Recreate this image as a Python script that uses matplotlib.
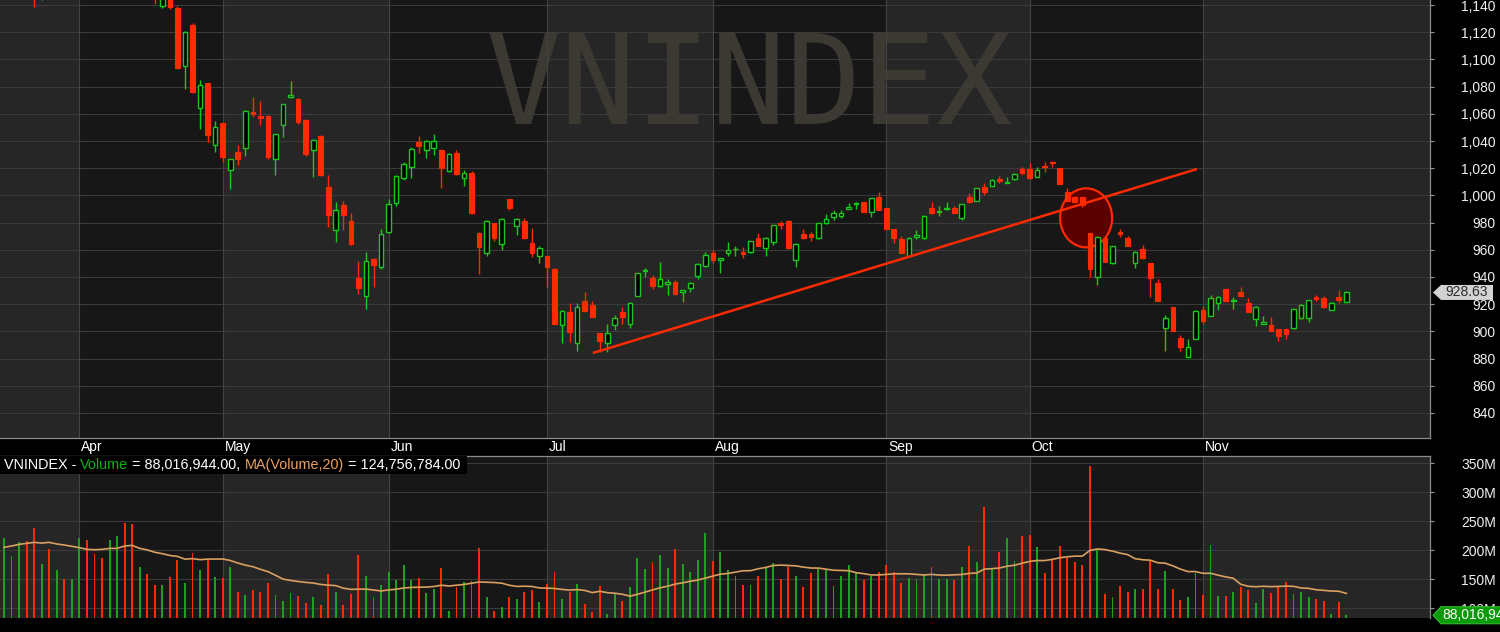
import numpy as np
import pandas as pd
import matplotlib
matplotlib.use('Agg')
import matplotlib.pyplot as plt
from matplotlib.patches import Ellipse, Rectangle, Polygon
from matplotlib.transforms import IdentityTransform, blended_transform_factory

# ---------------- data (VNINDEX daily, Mar 19 - Nov 28) ----------------
opens = [1150,1158,1166,1170,1156,1145,1166,1152,1172,1165,
         1176,1190,1172,1164,1155,1178,1198,1178,1165,1175,
         1160,1139.5,1152,1137.8,1095,1125,1064.5,1082.6,1036.8,1053.5,
         1018.7,1032,1034.6,1061.3,1058.4,1058.4,1026.5,1051.5,1072,1071,
         1055.4,1033.1,1043.7,1006.4,974.6,993.1,981.2,939.2,925.7,953.3,
         947.7,973.4,994.2,1012.6,1021.1,1039,1033.6,1034.9,1033.4,1017.9,
         1030.9,1012.6,1016.3,972.1,957.4,979.5,964,997.2,977.5,981.2,
         964.8,955.5,955.2,946.1,904.4,914.5,891.2,922.6,919.4,898.5,
         891.2,904.9,914.5,905.4,926.3,944.4,939.5,933.4,934.7,936.6,
         929,931.7,940.7,948.1,957.4,952.5,957.8,960.3,958.3,958.1,
         968.9,961.5,965.9,979.9,980.9,952.5,971.6,971.3,968.4,979.4,
         983.8,985,990,993.6,994.9,987.5,998.5,990.4,975.2,968.2,
         955.4,969.7,968.5,990.6,987.6,989.8,990.6,983.2,998.6,996.2,
         1006.5,1007.2,1012.1,1009.4,1012.1,1019.3,1019.5,1013.9,1021.7,1024.9,
         1020,1002.8,999.1,998.6,972.1,939.8,968.5,950.1,973.1,968.5,
         950.1,960.4,950.1,935.4,902.3,917.7,895,881.5,894.5,915.8,
         911.4,921.2,931,922.4,929.3,921.2,908.9,905.7,904.8,901.8,
         901.8,902.3,909.6,909.6,925.6,924.4,915.8,925.6,921.9]
highs = [1162,1170,1172,1174,1160,1168,1170,1175,1176,1180,
         1192,1196,1178,1168,1180,1204,1202,1180,1178,1178,
         1162,1158,1155,1139,1121,1127,1085,1083,1054.5,1054,
         1027,1036.8,1063,1072,1069.7,1059,1045.5,1067.5,1084.1,1071.5,
         1056.5,1041.5,1044.5,1015,995.4,995.6,987.3,951.4,958.7,954,
         975,997,1015,1024.8,1035.8,1043.7,1040.5,1045.1,1034,1031,
         1033.5,1018.7,1018,973,982,980,983.5,997.5,983.5,983.7,
         975.8,962.8,955.5,946.5,915.5,920.6,921.1,929.2,922,899,
         905.2,912.1,917.6,921.5,943,946.9,941.5,950.9,938.3,937.8,
         930.5,936.6,950,958.4,959.8,954,966,962.7,961.8,966.8,
         972.1,969.3,978.5,981.4,981.9,965,975,973.3,979.8,986,
         989.2,989.2,994.1,995,995.3,998.2,1002.7,991,975.5,970.5,
         969.5,974.6,985.3,995.5,992.5,995,992,994,1001.6,1005.6,
         1009.4,1011.7,1014.4,1013.9,1016.8,1020.8,1023.7,1021.2,1024.2,1025.2,
         1020.3,1005.3,999.5,999,972.5,970,968.8,963.1,975.1,970.3,
         959,963.6,950.4,938.3,912.1,918,897.4,894.2,915.4,918.7,
         926.8,926,931.3,925.1,932.9,924.9,918.5,911,910.9,902,
         902,916.6,919.8,923.4,926.4,926.3,921.5,930.5,929.6]
lows = [1146,1152,1158,1155,1138.5,1144,1150,1150,1160,1162,
        1172,1170,1160,1150,1152,1176,1175,1160,1158,1158,
        1141,1138,1137,1093,1078,1075,1048.6,1039.5,1032,1024.8,
        1004.5,1022.6,1029,1058,1051.8,1026.5,1014.8,1043.2,1071.5,1052.5,
        1029,1013.8,1014,977,966,974.6,963.5,927.7,916.7,932.6,
        946,972,992.2,1011.3,1013,1030.9,1027.3,1029.7,1005.2,1017.5,
        1015,1007.2,986.5,942,955.7,966.7,959.9,989.3,971,968,
        955,950.6,932.9,905.5,891.2,892.4,885.8,914.5,910.5,885,
        885,901,905.8,902.2,926,940.2,930.9,933,926.8,927,
        921.8,929,938.3,947.5,950,942.6,955.4,955.4,953.7,957.5,
        962.5,955.4,963.5,975,960.5,947.5,968,966.7,968,979,
        981.9,983.3,989.7,989.7,987.8,984.3,989,975,964.7,957.5,
        955,968,968.2,986.5,984.9,989.5,987,982,994.7,996,
        1000.4,1007,1009,1009.2,1011,1016,1012.3,1013.6,1017.5,1021.2,
        1008.2,995.7,995.2,991.8,939.8,934.1,951,949.8,969.7,962.5,
        946.4,953.5,925.6,922.3,885.9,900.3,885.6,881.2,894.2,905.5,
        911,915.8,922.1,916.3,925.8,914.3,904,905.5,900,893,
        894.5,902,909.3,907,922.2,917.4,915.5,921.2,921.6]
closes = [1160,1168,1170,1158,1146,1165,1152,1172,1165,1176,
          1190,1172,1164,1155,1178,1200,1178,1165,1175,1160,
          1145,1152,1138.3,1094,1120,1076,1081,1044.7,1050.5,1028.5,
          1026.5,1026.8,1062.3,1060.1,1056.7,1028.5,1044.9,1067,1073.6,1054.2,
          1030.2,1040.7,1015,985.6,989.3,985.6,964.1,931.8,952.1,948.5,
          971.4,993.4,1014.3,1023.1,1034.4,1036.3,1039.9,1040,1020.4,1030.7,
          1015.5,1016.7,986.9,961.8,981.5,969,983,990.6,983,968.5,
          957.4,961.6,947.1,905.8,915.2,899.3,917.6,915,910.8,892.6,
          898.5,909.7,910.8,921.1,942.7,945.4,933.4,938.3,936.4,927.5,
          930.2,935.3,949.6,956.2,952.5,953.7,959.8,960.8,956.6,966.4,
          963,968.9,978.2,978.2,961,964.5,968.4,969.6,979.4,982.4,
          987.3,987.3,991.7,994.6,988,997.8,989.2,975.2,968.4,958,
          968.7,970.9,984.9,986.9,988.8,991,987.4,993.7,995,1005.3,
          1002.8,1011.4,1010.9,1010.2,1015.6,1016.3,1012.6,1018.8,1020.7,1023.7,
          1008.5,996,995.5,993,945.6,969.7,951.3,962.8,971.7,963.1,
          958.7,953.8,939.6,922.6,910.1,900.6,888.8,888.8,915.1,907.9,
          924.4,925.6,922.4,923.1,926.1,914.6,918.2,907.2,900.3,896.9,
          898.1,916.3,919.5,923.1,924.1,917.7,921.2,923.1,928.63]
volumes_m = [222,190,214,217,238,177,202,166,151,151,
             222,218,194,187,218,224,248,246,171,159,
             140,141,154,184,144,195,166,185,154,152,
             172,128,123,132,128,144,123,113,126,122,
             109,119,105,160,128,106,125,192,156,120,
             141,162,148,174,148,152,126,134,170,95,
             136,145,147,204,120,95,103,119,116,128,
             132,111,142,162,116,129,142,107,94,138,
             91,124,113,137,186,168,180,192,170,203,
             176,163,184,230,182,198,166,155,140,141,
             156,171,179,151,172,156,137,161,168,167,
             138,156,174,161,148,156,163,174,162,143,
             153,151,159,172,150,151,148,172,207,180,
             274,170,198,221,182,225,226,205,161,184,
             207,187,180,174,345,203,125,119,139,128,
             133,134,183,133,165,134,114,120,161,123,
             210,121,121,128,137,132,110,134,126,136,
             145,125,128,120,116,113,91,111,88.02]
# MA(20) of the first 19 sessions depends on earlier history ->
ma_prior_m = [205.2,207.5,210.3,212.0,213.8,212.6,213.8,211.0,209.2,207.0,
              204.6,201.7,201.1,201.7,203.4,203.4,207.5,208.6,203.4]

month_labels = ['Apr', 'May', 'Jun', 'Jul', 'Aug', 'Sep', 'Oct', 'Nov']
month_start_idx = [10, 29, 51, 72, 94, 117, 136, 159]
price_ticks = list(range(840, 1141, 20))
vol_ticks_m = [100, 150, 200, 250, 300, 350]
trend_idx = [78.1, 158.2]
trend_price = [884.1, 1019.4]
circle_center = (143.5, 983.5)
circle_size = (6.9, 43.4)
last_volume = 88016944.00
last_ma = 124756784.00
symbol = 'VNINDEX'

# ---------------- style ----------------
plt.rcParams['font.family'] = ['Liberation Sans', 'DejaVu Sans']
W, H = 1500, 632
plot_right = 1430
price_top, price_bot = 0, 438
vol_top, vol_bot = 456, 618
RED = '#ff2a00'
GREEN = '#19c819'
VGREEN = '#1ea01e'
LIGHT = '#262626'
DARK = '#171717'
GRID = '#3a3a3a'
SPINE = '#8a8a8a'

fig = plt.figure(figsize=(W / 100, H / 100), dpi=100, facecolor='black')
ax_p = fig.add_axes([0, 1 - price_bot / H, plot_right / W, (price_bot - price_top) / H])
ax_v = fig.add_axes([0, 1 - vol_bot / H, plot_right / W, (vol_bot - vol_top) / H])

n = len(closes)
idx = np.arange(n)
o = np.array(opens, float); c = np.array(closes, float)
h = np.array(highs, float); l = np.array(lows, float)
vol = np.array(volumes_m, float)
up = c >= o

xlim = (-0.53, 189.1)
edges = [xlim[0]] + month_start_idx + [xlim[1]]
for ax in (ax_p, ax_v):
    ax.set_facecolor(DARK)
    for k in range(len(edges) - 1):
        ax.axvspan(edges[k], edges[k + 1], color=LIGHT if k % 2 == 0 else DARK, lw=0, zorder=0.1)
    for m in month_start_idx:
        ax.axvline(m, color='#434343', lw=0.8, zorder=0.6)
    ax.set_xlim(*xlim)
    ax.set_xticks([])
    ax.set_axisbelow(True)
    for s in ax.spines.values():
        s.set_color(SPINE)
        s.set_linewidth(0.9)
    ax.spines['left'].set_visible(False)

ax_p.spines['top'].set_visible(False)
ax_v.spines['bottom'].set_visible(False)

# ---------------- price panel ----------------
ax_p.set_ylim(821.6, 1143.7)
ax_p.text(748.5 / plot_right, (price_bot - 124) / price_bot, symbol, transform=ax_p.transAxes,
          ha='center', va='baseline', fontsize=90, family='DejaVu Sans Mono',
          color='#3b3932', zorder=0.3)

wick_cols = np.where(up, GREEN, RED)
ax_p.vlines(idx, l, h, colors=wick_cols, lw=1.0, zorder=2)
bottoms = np.minimum(o, c)
heights = np.abs(c - o)
ax_p.bar(idx[~up], heights[~up], bottom=bottoms[~up], width=0.62,
         color=RED, edgecolor=RED, lw=0.8, zorder=3)
ax_p.bar(idx[up], heights[up], bottom=bottoms[up], width=0.62,
         facecolor='black', edgecolor=GREEN, lw=1.0, zorder=3)

ax_p.add_patch(Ellipse(circle_center, circle_size[0], circle_size[1],
                       facecolor='#5a0000', edgecolor=RED, lw=1.6, zorder=1.5))
ax_p.plot(trend_idx, trend_price, color=RED, lw=1.8, zorder=4, solid_capstyle='butt')

ax_p.yaxis.tick_right()
ax_p.set_yticks(price_ticks)
ax_p.set_yticklabels([f'{v:,}' for v in price_ticks])
ax_p.tick_params(axis='y', colors='#9a9a9a', length=2.9, width=0.8,
                 labelcolor='#f0f0f0', labelsize=10, pad=44.6)
for lbl in ax_p.get_yticklabels():
    lbl.set_horizontalalignment('right')
ax_p.grid(axis='y', color=GRID, lw=0.8)

trans_m = blended_transform_factory(ax_p.transData, ax_p.transAxes)
for s, m in zip(month_labels, month_start_idx):
    ax_p.text(m + 0.25, -(447 - price_bot) / price_bot, s, transform=trans_m,
              ha='left', va='center', color='white', fontsize=10, clip_on=False)

# ---------------- volume panel ----------------
vs = pd.Series(vol)
ma = vs.rolling(20).mean().to_numpy()
ma[:len(ma_prior_m)] = ma_prior_m
ax_v.set_ylim(83.3, 362.8)
ax_v.bar(idx, vol, width=0.25, color=np.where(up, VGREEN, RED), zorder=2)
ax_v.plot(idx, ma, color='#d9a060', lw=1.2, zorder=3)
ax_v.yaxis.tick_right()
ax_v.set_yticks(vol_ticks_m)
ax_v.set_yticklabels([f'{v}M' for v in vol_ticks_m])
ax_v.tick_params(axis='y', colors='#9a9a9a', length=2.9, width=0.8,
                 labelcolor='#f0f0f0', labelsize=10, pad=44.6)
for lbl in ax_v.get_yticklabels():
    lbl.set_horizontalalignment('right')
ax_v.grid(axis='y', color=GRID, lw=0.8)

# ---------------- volume title ----------------
TFS = 10.4
fig.add_artist(Rectangle((0, 1 - 474 / H), 467 / W, 18 / H, transform=fig.transFigure,
                         facecolor='black', edgecolor='none', zorder=5))
pieces = [(f'{symbol} -', 'white'), ('Volume', '#12b012'),
          (f'= {last_volume:,.2f},', 'white'), ('MA(Volume,20)', '#e8a060'),
          (f'= {last_ma:,.2f}', 'white')]
full = ' '.join(p for p, _ in pieces)
renderer = fig.canvas.get_renderer()

def text_w(s):
    t = fig.text(0, 0, s, fontsize=TFS)
    w = t.get_window_extent(renderer=renderer).width
    t.remove()
    return w

x0 = 4
pos = 0
ty = 1 - 465 / H
for p, col in pieces:
    k = full.index(p, pos)
    off = text_w(full[:k + len(p)]) - text_w(p)
    fig.text((x0 + off) / W, ty, p, color=col, fontsize=TFS, ha='left', va='center', zorder=6)
    pos = k + len(p)

# ---------------- last value markers ----------------
yp = ax_p.transData.transform((0, c[-1]))[1]
fig.add_artist(Polygon([(1433, yp), (1441, yp + 7.5), (1493, yp + 7.5), (1493, yp - 7.5), (1441, yp - 7.5)],
                       closed=True, transform=IdentityTransform(), facecolor='#d2d2d2',
                       edgecolor='none', zorder=5))
fig.text(1467 / W, yp / H, f'{c[-1]:.2f}', color='#2a2a2a', fontsize=10,
         ha='center', va='center', zorder=6)

yv = ax_v.transData.transform((0, vol[-1]))[1]
fig.add_artist(Polygon([(1433, yv), (1441, yv + 8.5), (1503, yv + 8.5), (1503, yv - 8.5), (1441, yv - 8.5)],
                       closed=True, transform=IdentityTransform(), facecolor='#0a9a0a',
                       edgecolor='#30c030', lw=0.8, zorder=5))
fig.text(1442 / W, yv / H, f'{last_volume:,.0f}', color='white', fontsize=10,
         ha='left', va='center', zorder=6)

fig.savefig('out.png', dpi=100, facecolor='black')
